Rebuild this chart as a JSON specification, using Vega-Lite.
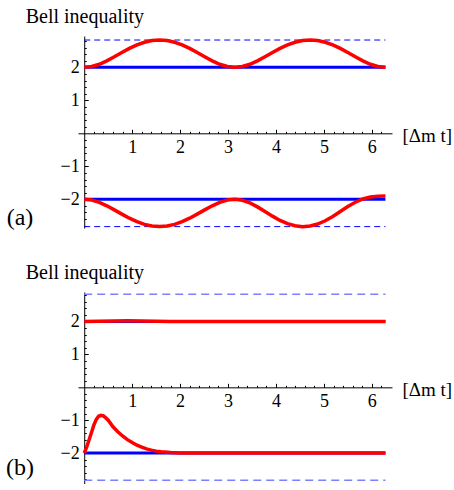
{
  "$schema": "https://vega.github.io/schema/vega-lite/v6.json",
  "background": "white",
  "padding": {"left": 6, "top": 6, "right": 0, "bottom": 0},
  "bounds": "flush",
  "spacing": 64,
  "config": {
    "view": {"stroke": null},
    "font": "'Liberation Serif', serif",
    "text": {"font": "'Liberation Serif', serif"},
    "axis": {"labelFont": "'Liberation Serif', serif", "titleFont": "'Liberation Serif', serif", "labelColor": "black", "titleColor": "black", "domainColor": "black", "tickColor": "black", "grid": false, "titleFontWeight": "normal", "labelFontSize": 18, "titleFontSize": 19, "domainWidth": 1, "tickWidth": 1}
  },
  "datasets": {
    "limits": [
      {"panel": "a", "t0": 0, "t1": 6.283, "S": 2.828},
      {"panel": "a", "t0": 0, "t1": 6.283, "S": -2.828},
      {"panel": "b", "t0": 0, "t1": 6.283, "S": 2.828},
      {"panel": "b", "t0": 0, "t1": 6.283, "S": -2.828}
    ],
    "classical": [
      {"panel": "a", "t0": 0, "t1": 6.283, "S": 2},
      {"panel": "a", "t0": 0, "t1": 6.283, "S": -2},
      {"panel": "b", "t0": 0, "t1": 6.283, "S": 2},
      {"panel": "b", "t0": 0, "t1": 6.283, "S": -2}
    ],
    "curves": [
      {"panel": "a", "series": "up", "t": 0, "S": 2.0},
      {"panel": "a", "series": "up", "t": 0.157, "S": 2.024},
      {"panel": "a", "series": "up", "t": 0.314, "S": 2.093},
      {"panel": "a", "series": "up", "t": 0.471, "S": 2.197},
      {"panel": "a", "series": "up", "t": 0.628, "S": 2.32},
      {"panel": "a", "series": "up", "t": 0.785, "S": 2.449},
      {"panel": "a", "series": "up", "t": 0.942, "S": 2.573},
      {"panel": "a", "series": "up", "t": 1.1, "S": 2.679},
      {"panel": "a", "series": "up", "t": 1.257, "S": 2.76},
      {"panel": "a", "series": "up", "t": 1.414, "S": 2.811},
      {"panel": "a", "series": "up", "t": 1.571, "S": 2.828},
      {"panel": "a", "series": "up", "t": 1.728, "S": 2.811},
      {"panel": "a", "series": "up", "t": 1.885, "S": 2.76},
      {"panel": "a", "series": "up", "t": 2.042, "S": 2.679},
      {"panel": "a", "series": "up", "t": 2.199, "S": 2.573},
      {"panel": "a", "series": "up", "t": 2.356, "S": 2.449},
      {"panel": "a", "series": "up", "t": 2.513, "S": 2.32},
      {"panel": "a", "series": "up", "t": 2.67, "S": 2.197},
      {"panel": "a", "series": "up", "t": 2.827, "S": 2.093},
      {"panel": "a", "series": "up", "t": 2.985, "S": 2.024},
      {"panel": "a", "series": "up", "t": 3.142, "S": 2.0},
      {"panel": "a", "series": "up", "t": 3.299, "S": 2.024},
      {"panel": "a", "series": "up", "t": 3.456, "S": 2.093},
      {"panel": "a", "series": "up", "t": 3.613, "S": 2.197},
      {"panel": "a", "series": "up", "t": 3.77, "S": 2.32},
      {"panel": "a", "series": "up", "t": 3.927, "S": 2.449},
      {"panel": "a", "series": "up", "t": 4.084, "S": 2.573},
      {"panel": "a", "series": "up", "t": 4.241, "S": 2.679},
      {"panel": "a", "series": "up", "t": 4.398, "S": 2.76},
      {"panel": "a", "series": "up", "t": 4.555, "S": 2.811},
      {"panel": "a", "series": "up", "t": 4.712, "S": 2.828},
      {"panel": "a", "series": "up", "t": 4.869, "S": 2.811},
      {"panel": "a", "series": "up", "t": 5.027, "S": 2.76},
      {"panel": "a", "series": "up", "t": 5.184, "S": 2.679},
      {"panel": "a", "series": "up", "t": 5.341, "S": 2.573},
      {"panel": "a", "series": "up", "t": 5.498, "S": 2.449},
      {"panel": "a", "series": "up", "t": 5.655, "S": 2.32},
      {"panel": "a", "series": "up", "t": 5.812, "S": 2.197},
      {"panel": "a", "series": "up", "t": 5.969, "S": 2.093},
      {"panel": "a", "series": "up", "t": 6.126, "S": 2.024},
      {"panel": "a", "series": "up", "t": 6.283, "S": 2.0},
      {"panel": "a", "series": "low", "t": 0, "S": -2.0},
      {"panel": "a", "series": "low", "t": 0.157, "S": -2.024},
      {"panel": "a", "series": "low", "t": 0.314, "S": -2.093},
      {"panel": "a", "series": "low", "t": 0.471, "S": -2.197},
      {"panel": "a", "series": "low", "t": 0.628, "S": -2.32},
      {"panel": "a", "series": "low", "t": 0.785, "S": -2.449},
      {"panel": "a", "series": "low", "t": 0.942, "S": -2.573},
      {"panel": "a", "series": "low", "t": 1.1, "S": -2.679},
      {"panel": "a", "series": "low", "t": 1.257, "S": -2.76},
      {"panel": "a", "series": "low", "t": 1.414, "S": -2.811},
      {"panel": "a", "series": "low", "t": 1.571, "S": -2.828},
      {"panel": "a", "series": "low", "t": 1.728, "S": -2.811},
      {"panel": "a", "series": "low", "t": 1.885, "S": -2.76},
      {"panel": "a", "series": "low", "t": 2.042, "S": -2.679},
      {"panel": "a", "series": "low", "t": 2.199, "S": -2.573},
      {"panel": "a", "series": "low", "t": 2.356, "S": -2.449},
      {"panel": "a", "series": "low", "t": 2.513, "S": -2.32},
      {"panel": "a", "series": "low", "t": 2.67, "S": -2.197},
      {"panel": "a", "series": "low", "t": 2.827, "S": -2.093},
      {"panel": "a", "series": "low", "t": 2.985, "S": -2.024},
      {"panel": "a", "series": "low", "t": 3.142, "S": -2.0},
      {"panel": "a", "series": "low", "t": 3.299, "S": -2.03},
      {"panel": "a", "series": "low", "t": 3.456, "S": -2.11},
      {"panel": "a", "series": "low", "t": 3.613, "S": -2.23},
      {"panel": "a", "series": "low", "t": 3.77, "S": -2.37},
      {"panel": "a", "series": "low", "t": 3.927, "S": -2.51},
      {"panel": "a", "series": "low", "t": 4.084, "S": -2.64},
      {"panel": "a", "series": "low", "t": 4.241, "S": -2.74},
      {"panel": "a", "series": "low", "t": 4.398, "S": -2.8},
      {"panel": "a", "series": "low", "t": 4.555, "S": -2.83},
      {"panel": "a", "series": "low", "t": 4.712, "S": -2.81},
      {"panel": "a", "series": "low", "t": 4.869, "S": -2.75},
      {"panel": "a", "series": "low", "t": 5.027, "S": -2.65},
      {"panel": "a", "series": "low", "t": 5.184, "S": -2.52},
      {"panel": "a", "series": "low", "t": 5.341, "S": -2.37},
      {"panel": "a", "series": "low", "t": 5.498, "S": -2.22},
      {"panel": "a", "series": "low", "t": 5.655, "S": -2.09},
      {"panel": "a", "series": "low", "t": 5.812, "S": -1.99},
      {"panel": "a", "series": "low", "t": 5.969, "S": -1.93},
      {"panel": "a", "series": "low", "t": 6.126, "S": -1.905},
      {"panel": "a", "series": "low", "t": 6.283, "S": -1.9},
      {"panel": "b", "series": "up", "t": 0, "S": 2.0},
      {"panel": "b", "series": "up", "t": 0.3, "S": 2.008},
      {"panel": "b", "series": "up", "t": 0.6, "S": 2.018},
      {"panel": "b", "series": "up", "t": 0.9, "S": 2.022},
      {"panel": "b", "series": "up", "t": 1.2, "S": 2.018},
      {"panel": "b", "series": "up", "t": 1.5, "S": 2.01},
      {"panel": "b", "series": "up", "t": 1.8, "S": 2.004},
      {"panel": "b", "series": "up", "t": 2.2, "S": 2.0},
      {"panel": "b", "series": "up", "t": 6.283, "S": 2.0},
      {"panel": "b", "series": "low", "t": 0, "S": -2.0},
      {"panel": "b", "series": "low", "t": 0.05, "S": -1.82},
      {"panel": "b", "series": "low", "t": 0.1, "S": -1.6},
      {"panel": "b", "series": "low", "t": 0.15, "S": -1.38},
      {"panel": "b", "series": "low", "t": 0.2, "S": -1.15},
      {"panel": "b", "series": "low", "t": 0.25, "S": -0.98},
      {"panel": "b", "series": "low", "t": 0.3, "S": -0.88},
      {"panel": "b", "series": "low", "t": 0.35, "S": -0.85},
      {"panel": "b", "series": "low", "t": 0.4, "S": -0.87},
      {"panel": "b", "series": "low", "t": 0.45, "S": -0.93},
      {"panel": "b", "series": "low", "t": 0.5, "S": -1.0},
      {"panel": "b", "series": "low", "t": 0.6, "S": -1.2},
      {"panel": "b", "series": "low", "t": 0.7, "S": -1.35},
      {"panel": "b", "series": "low", "t": 0.8, "S": -1.48},
      {"panel": "b", "series": "low", "t": 0.9, "S": -1.59},
      {"panel": "b", "series": "low", "t": 1.0, "S": -1.68},
      {"panel": "b", "series": "low", "t": 1.1, "S": -1.76},
      {"panel": "b", "series": "low", "t": 1.2, "S": -1.82},
      {"panel": "b", "series": "low", "t": 1.3, "S": -1.87},
      {"panel": "b", "series": "low", "t": 1.4, "S": -1.91},
      {"panel": "b", "series": "low", "t": 1.5, "S": -1.94},
      {"panel": "b", "series": "low", "t": 1.6, "S": -1.96},
      {"panel": "b", "series": "low", "t": 1.8, "S": -1.985},
      {"panel": "b", "series": "low", "t": 2.0, "S": -1.995},
      {"panel": "b", "series": "low", "t": 2.2, "S": -2.0},
      {"panel": "b", "series": "low", "t": 6.283, "S": -2.0}
    ],
    "labels": [
      {"panel": "a", "t": -1.34, "S": -2.57, "label": "(a)"},
      {"panel": "b", "t": -1.34, "S": -2.45, "label": "(b)"}
    ]
  },
  "vconcat": [
    {
      "width": 314,
      "height": 192,
      "resolve": {"axis": {"x": "independent", "y": "independent"}},
      "layer": [
        {
          "data": {"name": "limits"},
          "transform": [{"filter": "datum.panel === 'a'"}],
          "mark": {"type": "rule", "color": "#0000ff", "strokeWidth": 1, "strokeDash": [6, 4]},
          "encoding": {
            "x": {"field": "t0", "type": "quantitative", "scale": {"domain": [-0.13, 6.42], "nice": false, "zero": false},
              "axis": {"orient": "bottom", "offset": -94.7, "values": [1, 2, 3, 4, 5, 6], "ticks": false, "labelPadding": 5, "title": "[Δm t]", "titleX": 324, "titleY": 2, "titleAlign": "left", "titleBaseline": "middle", "titleAngle": 0}},
            "x2": {"field": "t1"},
            "y": {"field": "S", "type": "quantitative", "scale": {"domain": [-2.87, 2.95], "nice": false, "zero": false},
              "axis": {"orient": "left", "offset": -6.23, "values": [-2, -1, 1, 2], "ticks": false, "labelPadding": 5, "title": "Bell inequality", "titleFontSize": 20, "titleAngle": 0, "titleAlign": "left", "titleBaseline": "middle", "titleX": -59, "titleY": -20}}
          }
        },
        {
          "data": {"name": "classical"},
          "transform": [{"filter": "datum.panel === 'a'"}],
          "mark": {"type": "rule", "color": "#0000ff", "strokeWidth": 3},
          "encoding": {
            "x": {"field": "t0", "type": "quantitative", "scale": {"domain": [-0.13, 6.42], "nice": false, "zero": false},
              "axis": {"orient": "top", "offset": -97.3, "values": [1, 2, 3, 4, 5, 6], "labels": false, "domain": false, "tickSize": 4, "title": null}},
            "x2": {"field": "t1"},
            "y": {"field": "S", "type": "quantitative", "scale": {"domain": [-2.87, 2.95], "nice": false, "zero": false},
              "axis": {"orient": "right", "offset": -307.77, "values": [-2, -1, 1, 2], "labels": false, "domain": false, "tickSize": 4, "title": null}}
          }
        },
        {
          "data": {"name": "curves"},
          "transform": [{"filter": "datum.panel === 'a'"}],
          "mark": {"type": "line", "color": "#ff0000", "strokeWidth": 3.5},
          "encoding": {
            "x": {"field": "t", "type": "quantitative", "scale": {"domain": [-0.13, 6.42], "nice": false, "zero": false},
              "axis": {"orient": "top", "offset": -97.3, "values": [0.2, 0.4, 0.6, 0.8, 1.2, 1.4, 1.6, 1.8, 2.2, 2.4, 2.6, 2.8, 3.2, 3.4, 3.6, 3.8, 4.2, 4.4, 4.6, 4.8, 5.2, 5.4, 5.6, 5.8, 6.2], "labels": false, "domain": false, "tickSize": 2, "title": null}},
            "y": {"field": "S", "type": "quantitative", "scale": {"domain": [-2.87, 2.95], "nice": false, "zero": false},
              "axis": {"orient": "right", "offset": -307.77, "values": [-2.8, -2.6, -2.4, -2.2, -1.8, -1.6, -1.4, -1.2, -0.8, -0.6, -0.4, -0.2, 0.2, 0.4, 0.6, 0.8, 1.2, 1.4, 1.6, 1.8, 2.2, 2.4, 2.6, 2.8], "labels": false, "domain": false, "tickSize": 2, "title": null}},
            "detail": {"field": "series"}
          }
        },
        {
          "data": {"name": "labels"},
          "transform": [{"filter": "datum.panel === 'a'"}],
          "mark": {"type": "text", "fontSize": 24, "font": "'Liberation Serif', serif", "align": "center", "baseline": "middle", "color": "black"},
          "encoding": {
            "x": {"field": "t", "type": "quantitative", "scale": {"domain": [-0.13, 6.42], "nice": false, "zero": false}, "axis": null},
            "y": {"field": "S", "type": "quantitative", "scale": {"domain": [-2.87, 2.95], "nice": false, "zero": false}, "axis": null},
            "text": {"field": "label"}
          }
        }
      ]
    },
    {
      "width": 314,
      "height": 192,
      "resolve": {"axis": {"x": "independent", "y": "independent"}},
      "layer": [
        {
          "data": {"name": "limits"},
          "transform": [{"filter": "datum.panel === 'b'"}],
          "mark": {"type": "rule", "color": "#7f7fff", "strokeWidth": 1.5, "strokeDash": [8, 5]},
          "encoding": {
            "x": {"field": "t0", "type": "quantitative", "scale": {"domain": [-0.13, 6.42], "nice": false, "zero": false},
              "axis": {"orient": "bottom", "offset": -96.66, "values": [1, 2, 3, 4, 5, 6], "ticks": false, "labelPadding": 5, "title": "[Δm t]", "titleX": 324, "titleY": 2, "titleAlign": "left", "titleBaseline": "middle", "titleAngle": 0}},
            "x2": {"field": "t1"},
            "y": {"field": "S", "type": "quantitative", "scale": {"domain": [-2.94, 2.9], "nice": false, "zero": false},
              "axis": {"orient": "left", "offset": -6.23, "values": [-2, -1, 1, 2], "ticks": false, "labelPadding": 5, "title": "Bell inequality", "titleFontSize": 20, "titleAngle": 0, "titleAlign": "left", "titleBaseline": "middle", "titleX": -59, "titleY": -20}}
          }
        },
        {
          "data": {"name": "classical"},
          "transform": [{"filter": "datum.panel === 'b'"}],
          "mark": {"type": "rule", "color": "#0000ff", "strokeWidth": 3},
          "encoding": {
            "x": {"field": "t0", "type": "quantitative", "scale": {"domain": [-0.13, 6.42], "nice": false, "zero": false},
              "axis": {"orient": "top", "offset": -95.34, "values": [1, 2, 3, 4, 5, 6], "labels": false, "domain": false, "tickSize": 4, "title": null}},
            "x2": {"field": "t1"},
            "y": {"field": "S", "type": "quantitative", "scale": {"domain": [-2.94, 2.9], "nice": false, "zero": false},
              "axis": {"orient": "right", "offset": -307.77, "values": [-2, -1, 1, 2], "labels": false, "domain": false, "tickSize": 4, "title": null}}
          }
        },
        {
          "data": {"name": "curves"},
          "transform": [{"filter": "datum.panel === 'b'"}],
          "mark": {"type": "line", "color": "#ff0000", "strokeWidth": 3.5},
          "encoding": {
            "x": {"field": "t", "type": "quantitative", "scale": {"domain": [-0.13, 6.42], "nice": false, "zero": false},
              "axis": {"orient": "top", "offset": -95.34, "values": [0.2, 0.4, 0.6, 0.8, 1.2, 1.4, 1.6, 1.8, 2.2, 2.4, 2.6, 2.8, 3.2, 3.4, 3.6, 3.8, 4.2, 4.4, 4.6, 4.8, 5.2, 5.4, 5.6, 5.8, 6.2], "labels": false, "domain": false, "tickSize": 2, "title": null}},
            "y": {"field": "S", "type": "quantitative", "scale": {"domain": [-2.94, 2.9], "nice": false, "zero": false},
              "axis": {"orient": "right", "offset": -307.77, "values": [-2.8, -2.6, -2.4, -2.2, -1.8, -1.6, -1.4, -1.2, -0.8, -0.6, -0.4, -0.2, 0.2, 0.4, 0.6, 0.8, 1.2, 1.4, 1.6, 1.8, 2.2, 2.4, 2.6, 2.8], "labels": false, "domain": false, "tickSize": 2, "title": null}},
            "detail": {"field": "series"}
          }
        },
        {
          "data": {"name": "labels"},
          "transform": [{"filter": "datum.panel === 'b'"}],
          "mark": {"type": "text", "fontSize": 24, "font": "'Liberation Serif', serif", "align": "center", "baseline": "middle", "color": "black"},
          "encoding": {
            "x": {"field": "t", "type": "quantitative", "scale": {"domain": [-0.13, 6.42], "nice": false, "zero": false}, "axis": null},
            "y": {"field": "S", "type": "quantitative", "scale": {"domain": [-2.94, 2.9], "nice": false, "zero": false}, "axis": null},
            "text": {"field": "label"}
          }
        }
      ]
    }
  ]
}
